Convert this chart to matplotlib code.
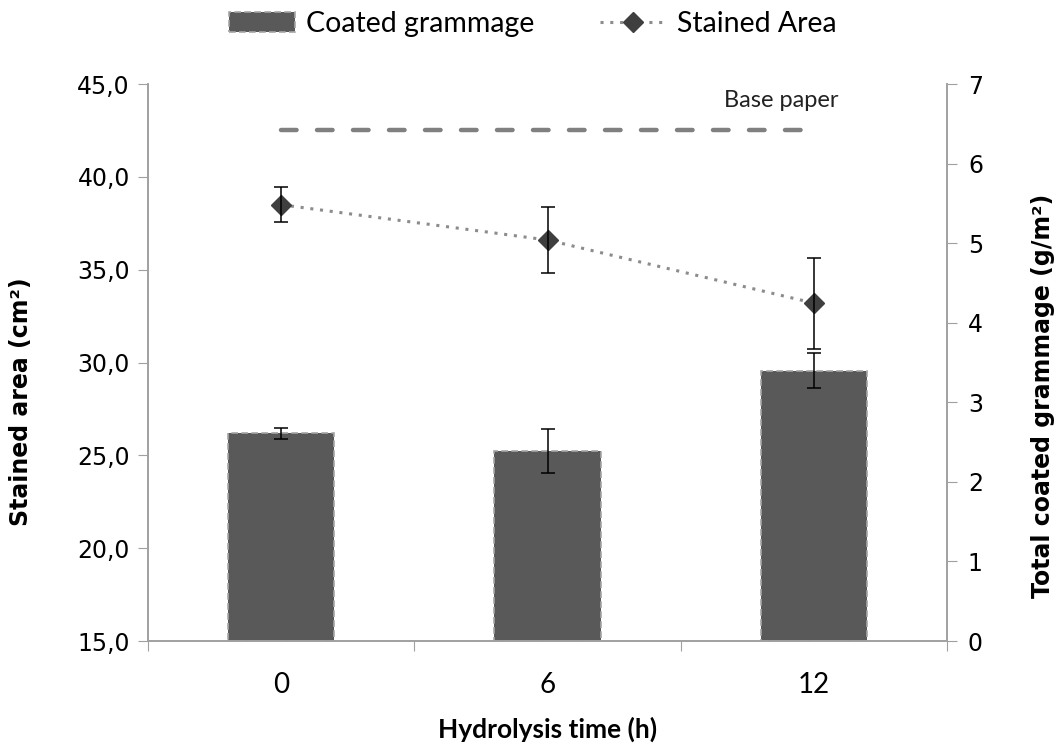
import numpy as np
import matplotlib
matplotlib.use("Agg")
import matplotlib.pyplot as plt
from matplotlib.ticker import FuncFormatter, FixedLocator
from matplotlib.patches import Patch
from matplotlib.lines import Line2D

plt.rcParams['font.family'] = ['DejaVu Sans']
narrow = ['Lato', 'DejaVu Sans']   # calibri-ish texts

# data
hours = ["0", "6", "12"]
grammage = [2.61, 2.39, 3.40]        # g/m2 (right axis)
grammage_err = [0.065, 0.28, 0.22]
stained = [38.5, 36.6, 33.2]          # cm2 (left axis)
stained_err = [0.95, 1.8, 2.45]
base_paper = 42.5

x = np.arange(len(hours))

fig = plt.figure(figsize=(10.59, 7.44), dpi=100)
ax1 = fig.add_axes([0.1398, 0.1384, 0.7545, 0.7486])
ax2 = ax1.twinx()

# bars on right axis
ax2.bar(x, grammage, width=0.4, color="#595959", edgecolor="#a6a6a6",
        linestyle=(0, (4, 2)), linewidth=1.2, zorder=2)
ax2.errorbar(x, grammage, yerr=grammage_err, fmt="none", ecolor="black",
             elinewidth=1.1, capsize=5, capthick=1.1, zorder=3)
ax2.set_ylim(0, 7)
ax2.set_yticks(range(0, 8))

# stained area on left axis, drawn above the bars
ax1.set_zorder(ax2.get_zorder() + 1)
ax1.patch.set_visible(False)
ax1.plot(x, stained, linestyle=(0, (1, 2.2)), color="#8c8c8c", linewidth=2.2,
         marker="D", markersize=10.5, markerfacecolor="#3f3f3f", markeredgecolor="#3f3f3f")
ax1.errorbar(x, stained, yerr=stained_err, fmt="none", ecolor="black",
             elinewidth=1.1, capsize=5, capthick=1.1)
ax1.plot([x[0], x[-1]], [base_paper, base_paper], linestyle=(0, (3.5, 4.6)),
         color="#808080", linewidth=3.2, dash_capstyle="round")
ax1.text(1.663, 44.1, "Base paper", fontsize=17, color="#222222",
         ha="left", va="center", family=narrow)

ax1.set_ylim(15, 45)
ax1.set_yticks(np.arange(15, 46, 5))
ax1.yaxis.set_major_formatter(FuncFormatter(lambda v, p: f"{v:.1f}".replace(".", ",")))
ax1.set_xlim(-0.5, 2.5)
ax1.xaxis.set_major_locator(FixedLocator([-0.5, 0.5, 1.5, 2.5]))
ax1.xaxis.set_major_formatter(FuncFormatter(lambda v, p: ""))
ax1.xaxis.set_minor_locator(FixedLocator(x))
ax1.set_xticklabels(hours, minor=True, family=narrow)
ax1.tick_params(axis="x", which="minor", length=0, labelsize=20, pad=22)
ax1.tick_params(axis="x", which="major", length=7, color="#a0a0a0")
ax1.tick_params(axis="y", length=7, color="#a0a0a0", labelsize=17, pad=6)
ax2.tick_params(axis="y", length=7, color="#a0a0a0", labelsize=17, pad=8)

for ax in (ax1, ax2):
    ax.spines["top"].set_visible(False)
    for s in ("left", "right", "bottom"):
        ax.spines[s].set_color("#a0a0a0")
        ax.spines[s].set_linewidth(1.2)

ax1.set_xlabel("Hydrolysis time (h)", fontsize=19, fontweight="bold", family=narrow)
ax1.xaxis.set_label_coords(0.5, -0.135)
ax1.set_ylabel("Stained area (cm²)", fontsize=17, fontweight="bold")
ax1.yaxis.set_label_coords(-0.144, 0.43)
ax2.set_ylabel("Total coated grammage (g/m²)", fontsize=17, fontweight="bold")
ax2.yaxis.set_label_coords(1.105, 0.44)

handles = [
    Patch(facecolor="#595959", edgecolor="#a6a6a6", linestyle=(0, (4, 2)), linewidth=1.2),
    Line2D([], [], linestyle=(0, (1, 2.2)), color="#8c8c8c", linewidth=2.2,
           marker="D", markersize=10.5, markerfacecolor="#3f3f3f", markeredgecolor="#3f3f3f"),
]
fig.legend(handles, ["Coated grammage", "Stained Area"], loc="center",
           bbox_to_anchor=(0.503, 0.968), ncol=2, frameon=False,
           prop={"family": narrow, "size": 20.5},
           handlelength=2.3, columnspacing=2.3, handletextpad=0.4)

plt.savefig("out.png", dpi=100)
